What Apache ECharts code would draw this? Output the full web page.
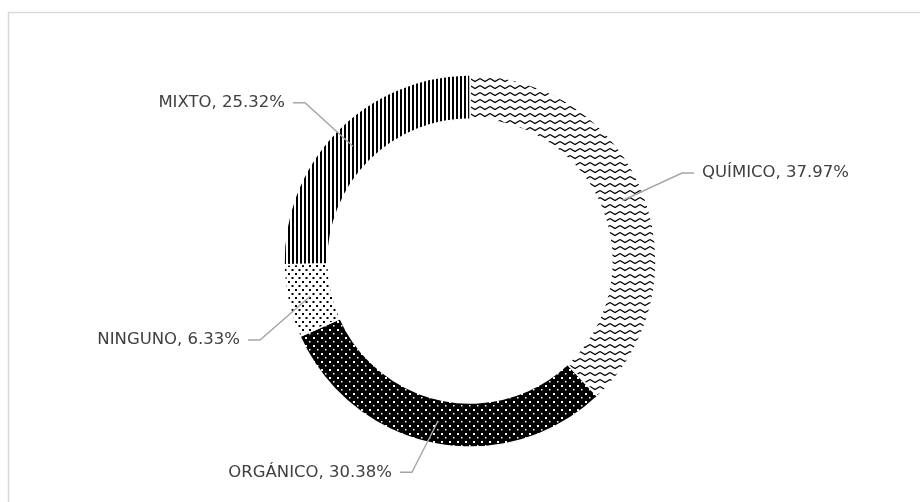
<!DOCTYPE html>
<html>
<head>
<meta charset="utf-8">
<script src="https://cdn.jsdelivr.net/npm/echarts@6/dist/echarts.min.js"></script>
<style>
  html, body { margin: 0; padding: 0; background: #fff; }
  #chart { width: 920px; height: 502px; }
</style>
</head>
<body>
<div id="chart"></div>
<script>
// Tipo de fertilizante usado (número de respuestas)
const categories = ['QUÍMICO', 'ORGÁNICO', 'NINGUNO', 'MIXTO'];
const counts = [30, 24, 5, 20];
const percentLabels = ['37.97%', '30.38%', '6.33%', '25.32%'];

// Label offsets (dx, dy) applied to each label and its elbow
const labelNudge = [[5.7, -6.1], [-14.2, -6.4], [6.7, 30.8], [-6.5, -2.9]];

function makeTile(w, h, draw) {
  const c = document.createElement('canvas');
  c.width = w; c.height = h;
  const ctx = c.getContext('2d');
  draw(ctx, w, h);
  return { image: c, repeat: 'repeat' };
}

// Zigzag lines on white
const wavePattern = makeTile(10, 7, (ctx, w, h) => {
  ctx.fillStyle = '#fff'; ctx.fillRect(0, 0, w, h);
  ctx.strokeStyle = '#000'; ctx.lineWidth = 1.3;
  ctx.beginPath();
  ctx.moveTo(0, 1.5); ctx.lineTo(5, 4.5); ctx.lineTo(10, 1.5);
  ctx.stroke();
});
// White dots on black
const darkDotPattern = makeTile(8, 8, (ctx, w, h) => {
  ctx.fillStyle = '#000'; ctx.fillRect(0, 0, w, h);
  ctx.fillStyle = '#fff';
  ctx.fillRect(1, 1, 2, 2);
  ctx.fillRect(5, 5, 1.5, 1.5);
});
// Black dots on white
const lightDotPattern = makeTile(7, 8, (ctx, w, h) => {
  ctx.fillStyle = '#fff'; ctx.fillRect(0, 0, w, h);
  ctx.fillStyle = '#000';
  ctx.fillRect(1, 1, 2, 2);
  ctx.fillRect(4.5, 5, 2, 2);
});
// Vertical stripes
const stripePattern = makeTile(4, 4, (ctx, w, h) => {
  ctx.fillStyle = '#fff'; ctx.fillRect(0, 0, w, h);
  ctx.fillStyle = '#000'; ctx.fillRect(0, 0, 2, h);
});
const fills = [wavePattern, darkDotPattern, lightDotPattern, stripePattern];

const ringData = categories.map((name, i) => ({
  name: name,
  value: counts[i],
  itemStyle: { color: fills[i] }
}));
const labelData = categories.map((name, i) => ({
  name: name,
  value: counts[i],
  pct: percentLabels[i]
}));

const chart = echarts.init(document.getElementById('chart'), null, { renderer: 'canvas' });
chart.setOption({
  animation: false,
  backgroundColor: '#fff',
  graphic: [{
    type: 'rect',
    shape: { x: 8.5, y: 12.5, width: 1000, height: 1000 },
    style: { fill: 'none', stroke: '#d9d9d9', lineWidth: 1.5 },
    silent: true,
    z: -10
  }],
  series: [
    {
      type: 'pie',
      center: [470, 261],
      radius: [142, 186],
      startAngle: 90,
      clockwise: true,
      avoidLabelOverlap: false,
      silent: true,
      itemStyle: { borderColor: '#fff', borderWidth: 1.5 },
      label: { show: false },
      labelLine: { show: false },
      data: ringData,
      z: 2
    },
    {
      type: 'pie',
      center: [470, 261],
      radius: [0, 164],
      startAngle: 90,
      clockwise: true,
      avoidLabelOverlap: false,
      silent: true,
      itemStyle: { color: 'rgba(0,0,0,0)', borderWidth: 0 },
      label: {
        show: true,
        position: 'outside',
        alignTo: 'none',
        distanceToLabelLine: 8,
        fontFamily: 'DejaVu Sans',
        fontSize: 16.5,
        color: '#404040',
        formatter: p => p.name + ', ' + labelData[p.dataIndex].pct
      },
      labelLine: {
        show: true,
        length: 58,
        length2: 12,
        smooth: false,
        lineStyle: { color: '#a6a6a6', width: 1.4 }
      },
      labelLayout: function (params) {
        const n = labelNudge[params.dataIndex];
        const p = params.labelLinePoints;
        if (!p) return { dx: n[0], dy: n[1] };
        return {
          dx: n[0],
          dy: n[1],
          labelLinePoints: [
            [p[0][0], p[0][1]],
            [p[1][0] + n[0], p[1][1] + n[1]],
            [p[2][0] + n[0], p[2][1] + n[1]]
          ]
        };
      },
      data: labelData,
      z: 3
    }
  ]
});
</script>
</body>
</html>
